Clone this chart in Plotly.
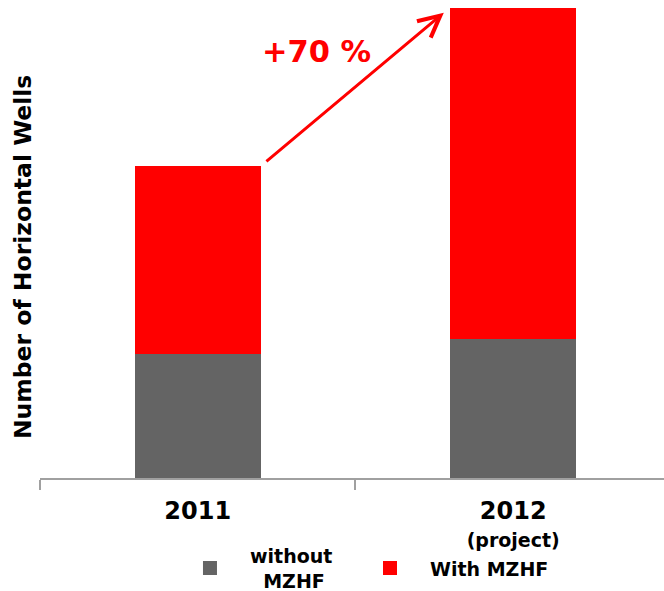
import plotly.graph_objects as go

# Horizontal wells per year, split by completion type
years = ["2011", "2012"]
year_labels = ["<span style='font-size:24px'>2011</span>",
               "<span style='font-size:24px'>2012</span><br>"
               "<span style='font-size:19px'>(project)</span>"]
without_mzhf = [40, 45]
with_mzhf = [61, 107]
growth_label = "+70 %"

GRAY = "#646464"
RED = "#FF0000"
FONT = "DejaVu Sans"

fig = go.Figure()
fig.add_trace(go.Bar(x=years, y=without_mzhf, name="without MZHF",
                     marker=dict(color=GRAY, line=dict(width=0)),
                     width=0.4, showlegend=False))
fig.add_trace(go.Bar(x=years, y=with_mzhf, name="With MZHF",
                     marker=dict(color=RED, line=dict(width=0)),
                     width=0.4, showlegend=False))

# legend entries with larger square swatches, one legend box each
fig.add_trace(go.Scatter(x=[None], y=[None], mode="markers",
                         name="without<br>&nbsp;&nbsp;MZHF", legend="legend",
                         marker=dict(symbol="square", size=14, color=GRAY)))
fig.add_trace(go.Scatter(x=[None], y=[None], mode="markers",
                         name="With MZHF", legend="legend2",
                         marker=dict(symbol="square", size=14, color=RED)))

totals = [a + b for a, b in zip(without_mzhf, with_mzhf)]

# growth arrow from the top of the 2011 bar to the top of the 2012 bar
fig.add_annotation(x=0.78, y=totals[1] - 1.5, ax=0.213, ay=totals[0] + 1,
                   xref="x", yref="y", axref="x", ayref="y",
                   text="", showarrow=True, arrowhead=5, arrowsize=1.4,
                   arrowwidth=3, arrowcolor=RED, standoff=0, startstandoff=0)
fig.add_annotation(x=0.378, y=137.8, xref="x", yref="y", text=growth_label,
                   showarrow=False,
                   font=dict(family=FONT, size=30.5, color=RED, weight="bold"))

# y-axis title
fig.add_annotation(x=0, y=0.47, xref="paper", yref="paper", xshift=-17,
                   text="Number of Horizontal Wells", textangle=-90,
                   showarrow=False, xanchor="center", yanchor="middle",
                   font=dict(family=FONT, size=23.5, color="black", weight="bold"))

legend_font = dict(family=FONT, size=19, color="black", weight="bold")

fig.update_layout(
    barmode="stack",
    width=664, height=591,
    margin=dict(l=40, r=0, t=8, b=113, autoexpand=False),
    paper_bgcolor="white", plot_bgcolor="white",
    font=dict(family=FONT, color="black"),
    xaxis=dict(range=[-0.5, 1.478], tickmode="array", tickvals=years,
               ticktext=year_labels, tickson="boundaries", ticks="outside",
               ticklen=10, tickwidth=1.5, tickcolor="#A0A0A0",
               showline=True, linecolor="#A0A0A0", linewidth=1.5,
               showgrid=False, zeroline=False, automargin=False,
               ticklabelstandoff=13,
               tickfont=dict(family=FONT, size=21.5, color="black", weight="bold")),
    yaxis=dict(range=[0, 152], visible=False, showgrid=False, zeroline=False),
    legend=dict(orientation="h", x=0.2083, xanchor="left",
                y=-0.192, yanchor="middle", itemwidth=70,
                font=legend_font, bgcolor="rgba(0,0,0,0)"),
    legend2=dict(orientation="h", x=0.4968, xanchor="left",
                 y=-0.192, yanchor="middle", itemwidth=70,
                 font=legend_font, bgcolor="rgba(0,0,0,0)"),
)

fig.write_html("out.html")
